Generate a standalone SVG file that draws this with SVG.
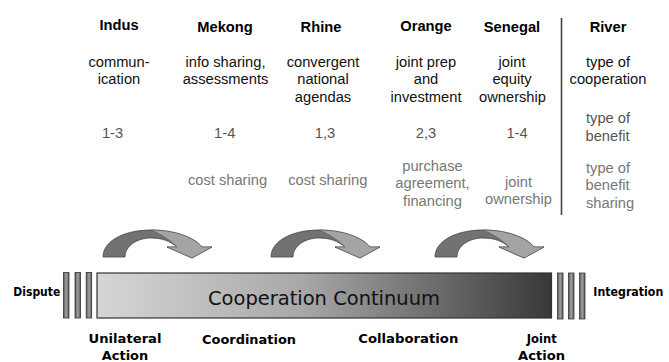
<svg xmlns="http://www.w3.org/2000/svg" width="669" height="362" viewBox="0 0 669 362">
<style>
.hd{font-family:"Liberation Sans",Arial,sans-serif;font-size:14.7px;font-weight:bold;fill:#000;text-anchor:middle}
.t1{font-family:"Liberation Sans",Arial,sans-serif;font-size:14.7px;fill:#111;text-anchor:middle}
.t2{font-family:"Liberation Sans",Arial,sans-serif;font-size:14.7px;fill:#555;text-anchor:middle}
.t3{font-family:"Liberation Sans",Arial,sans-serif;font-size:14.7px;fill:#777;text-anchor:middle}
.st{text-anchor:start}
.lb{font-family:"DejaVu Sans",Verdana,sans-serif;font-weight:bold;font-size:13px;fill:#000;text-anchor:middle}
.sm{font-family:"DejaVu Sans",Verdana,sans-serif;font-weight:bold;font-size:11.5px;fill:#000}
.big{font-family:"DejaVu Sans",Verdana,sans-serif;font-size:19.5px;fill:#111;text-anchor:middle}
.tick{fill:url(#tickg);stroke:#333;stroke-width:0.8}
.arr{fill:#727272;stroke:#444;stroke-width:0.8}
.arrl{fill:#a4a4a4;stroke:#555;stroke-width:0.6}
</style>
<defs>
<linearGradient id="barg" x1="0" y1="0" x2="1" y2="0">
<stop offset="0" stop-color="#d6d6d6"/>
<stop offset="0.45" stop-color="#a8a8a8"/>
<stop offset="1" stop-color="#383838"/>
</linearGradient>
<linearGradient id="tickg" x1="0" y1="0" x2="1" y2="0">
<stop offset="0" stop-color="#5a5a5a"/>
<stop offset="0.5" stop-color="#a0a0a0"/>
<stop offset="1" stop-color="#5a5a5a"/>
</linearGradient>
<g id="arrow">
<path class="arr" d="M0,0 C0,-16 21,-27 48,-27 C71,-27 91,-20 99,-10 L109,-10 L89,1 L64,-10 L74,-10 C67,-16 59,-19 48,-19 C34,-19 22,-11 22,0 Z"/>
<path class="arrl" d="M48,-27 C71,-27 91,-20 99,-10 L109,-10 L89,1 L64,-10 L74,-10 C68,-16 60,-22 48,-27 Z"/>
</g>
</defs>

<g id="col-indus">
<text class="hd" x="119" y="29.5">Indus</text>
<text class="t1" x="119" y="66.5">commun-</text>
<text class="t1" x="119" y="84">ication</text>
<text class="t2" x="112.5" y="137.5">1-3</text>
</g>
<g id="col-mekong">
<text class="hd" x="225" y="31.5">Mekong</text>
<text class="t1" x="225.5" y="66.5">info sharing,</text>
<text class="t1" x="225.5" y="84">assessments</text>
<text class="t2" x="224.7" y="137.5">1-4</text>
<text class="t3" x="227.5" y="185">cost sharing</text>
</g>
<g id="col-rhine">
<text class="hd" x="321" y="31.5">Rhine</text>
<text class="t1" x="323" y="66.5">convergent</text>
<text class="t1" x="323" y="84">national</text>
<text class="t1" x="323" y="101.5">agendas</text>
<text class="t2" x="325" y="137.5">1,3</text>
<text class="t3" x="327.8" y="185">cost sharing</text>
</g>
<g id="col-orange">
<text class="hd" x="426" y="30.5">Orange</text>
<text class="t1" x="426" y="66.5">joint prep</text>
<text class="t1" x="426" y="84">and</text>
<text class="t1" x="426" y="101.5">investment</text>
<text class="t2" x="426" y="137.5">2,3</text>
<text class="t3" x="432.5" y="170.5">purchase</text>
<text class="t3" x="432.5" y="188">agreement,</text>
<text class="t3" x="432.5" y="205.5">financing</text>
</g>
<g id="col-senegal">
<text class="hd" x="512" y="31.5">Senegal</text>
<text class="t1" x="512" y="66.5">joint</text>
<text class="t1" x="512" y="84">equity</text>
<text class="t1" x="512.5" y="101.5">ownership</text>
<text class="t2" x="517" y="137.5">1-4</text>
<text class="t3" x="518.5" y="186.5">joint</text>
<text class="t3" x="518.5" y="204">ownership</text>
</g>
<g id="col-river">
<line x1="561.5" y1="18" x2="561.5" y2="215" stroke="#444" stroke-width="1.6"/>
<text class="hd" x="608" y="31.5">River</text>
<text class="t1" x="608" y="66.5">type of</text>
<text class="t1" x="608" y="84">cooperation</text>
<text class="t2 st" x="586" y="123">type of</text>
<text class="t2 st" x="585.5" y="140.5">benefit</text>
<text class="t3 st" x="586" y="172.5">type of</text>
<text class="t3 st" x="585.5" y="190">benefit</text>
<text class="t3 st" x="586" y="207.5">sharing</text>
</g>

<g id="connectors">
<use href="#arrow" transform="translate(103,257)"/>
<use href="#arrow" transform="translate(271,257)"/>
<use href="#arrow" transform="translate(435,257)"/>
</g>

<g id="continuum">
<rect x="97" y="273" width="454.5" height="45" fill="url(#barg)" stroke="#333" stroke-width="1.2"/>
<text class="big" x="324" y="305" textLength="232" lengthAdjust="spacingAndGlyphs">Cooperation Continuum</text>
</g>
<g id="dispute">
<rect class="tick" x="63.5" y="272.5" width="5.5" height="45.5"/>
<rect class="tick" x="75" y="272.5" width="5.5" height="45.5"/>
<rect class="tick" x="86.2" y="272.5" width="5.5" height="45.5"/>
<text class="sm" x="13.3" y="296" textLength="47" lengthAdjust="spacingAndGlyphs">Dispute</text>
</g>
<g id="integration">
<rect class="tick" x="557.5" y="273" width="5.5" height="46"/>
<rect class="tick" x="568.5" y="273" width="5.5" height="46"/>
<rect class="tick" x="579.5" y="273" width="5.5" height="46"/>
<text class="sm" x="593.3" y="296" textLength="70" lengthAdjust="spacingAndGlyphs">Integration</text>
</g>
<g id="stage-unilateral">
<text class="lb" x="125" y="342.5" textLength="73" lengthAdjust="spacingAndGlyphs">Unilateral</text>
<text class="lb" x="125" y="359.5" textLength="46.5" lengthAdjust="spacingAndGlyphs">Action</text>
</g>
<g id="stage-coordination">
<text class="lb" x="249" y="344" textLength="94" lengthAdjust="spacingAndGlyphs">Coordination</text>
</g>
<g id="stage-collaboration">
<text class="lb" x="408.3" y="343" textLength="100" lengthAdjust="spacingAndGlyphs">Collaboration</text>
</g>
<g id="stage-joint">
<text class="lb" x="541.7" y="342.5" textLength="30" lengthAdjust="spacingAndGlyphs">Joint</text>
<text class="lb" x="541.5" y="359.5" textLength="47" lengthAdjust="spacingAndGlyphs">Action</text>
</g>
</svg>
